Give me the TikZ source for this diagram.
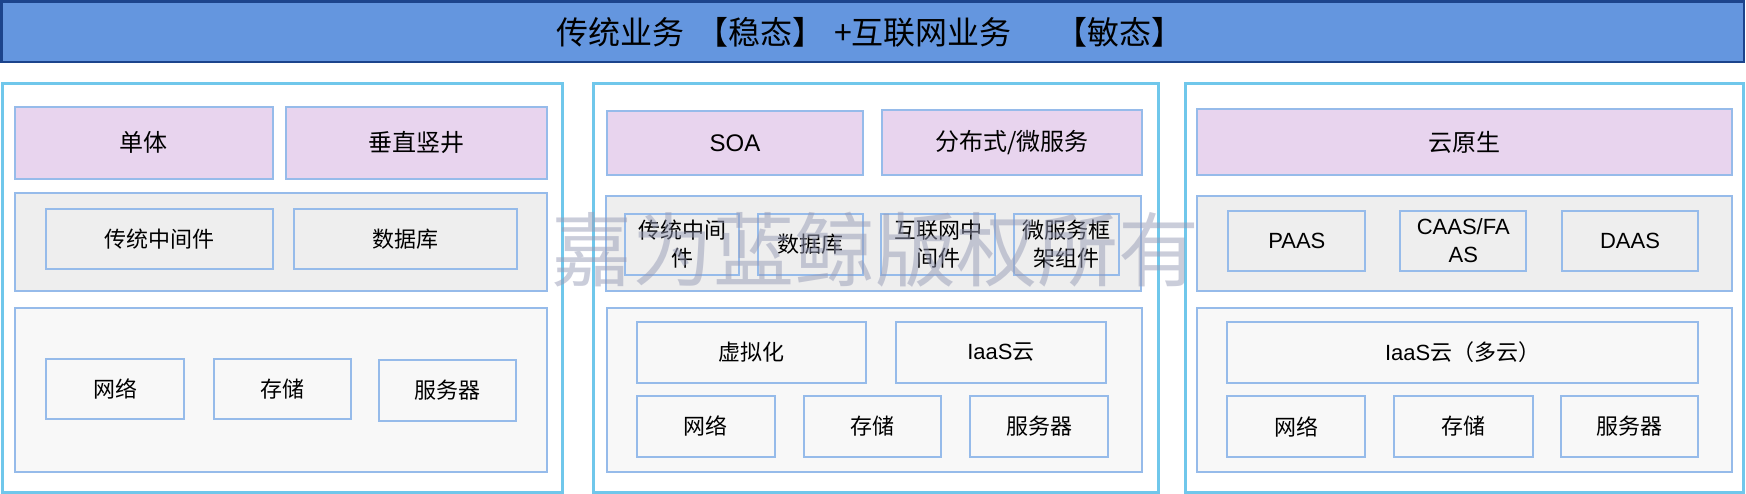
\documentclass[tikz,border=0pt]{standalone}
\usepackage{fontspec}
\setmainfont{Noto Sans CJK SC}
\newfontfamily\lat{Liberation Sans}
\definecolor{titlefill}{RGB}{100,150,223}
\definecolor{titledraw}{RGB}{28,68,140}
\definecolor{skyc}{RGB}{112,199,235}
\definecolor{bdc}{RGB}{150,187,234}
\definecolor{lav}{RGB}{232,212,238}
\definecolor{gone}{RGB}{238,238,238}
\definecolor{gtwo}{RGB}{248,248,248}
\definecolor{wmc}{RGB}{150,155,182}
\tikzset{
  titlebar/.style={draw=titledraw, line width=2.5pt, fill=titlefill},
  outerbox/.style={draw=skyc, line width=3pt, fill=white},
  topbox/.style={draw=bdc, line width=2pt, fill=lav, inner sep=0pt, font=\fontsize{24}{28}\selectfont},
  bandone/.style={draw=bdc, line width=2pt, fill=gone},
  bandtwo/.style={draw=bdc, line width=2pt, fill=gtwo},
  midbox/.style={draw=bdc, line width=2pt, fill=gone, inner sep=0pt, align=center, font=\fontsize{22}{28}\selectfont},
  lowbox/.style={draw=bdc, line width=2pt, fill=gtwo, inner sep=0pt, align=center, font=\fontsize{22}{28}\selectfont},
  wm/.style={text=wmc, text opacity=0.5, inner sep=0pt, font=\fontsize{81}{90}\selectfont},
}
\newcommand\bx[7]{\node[#2, minimum width={(#5-#3)*1pt}, minimum height={(#6-#4)*1pt}] (#1) at ({(#3+#5)/2},{(#4+#6)/2}) {#7};}
\begin{document}
\begin{tikzpicture}[x=1pt,y=-1pt]
\useasboundingbox (0,0) rectangle (1746,494);
% title
\bx{title}{titlebar}{1.5}{1.5}{1744}{62}{}
\node[anchor=west, inner sep=0pt, font=\fontsize{32}{38}\selectfont] (titletext) at (556,32.5) {传统业务\hspace{12pt}【稳态】\hspace{10pt}+互联网业务\hspace{44pt}【敏态】};
% column 1
\bx{c1}{outerbox}{2.5}{84}{562.5}{492}{}
\bx{c1a}{topbox}{14.5}{106.7}{273.2}{179}{单体}
\bx{c1b}{topbox}{286.3}{106.7}{547.3}{179}{垂直竖井}
\bx{c1m}{bandone}{15.3}{193.3}{547.3}{291}{}
\bx{c1m1}{midbox}{46.3}{208.7}{273.2}{269}{传统中间件}
\bx{c1m2}{midbox}{294.3}{208.7}{517.4}{269}{数据库}
\bx{c1l}{bandtwo}{15}{307.7}{547.3}{472}{}
\bx{c1l1}{lowbox}{46.3}{358.7}{184}{419}{网络}
\bx{c1l2}{lowbox}{213.5}{358.7}{351.3}{419}{存储}
\bx{c1l3}{lowbox}{378.5}{359.7}{516.3}{421}{服务器}
% column 2
\bx{c2}{outerbox}{593.4}{84}{1158}{492}{}
\bx{c2a}{topbox}{606.8}{111}{863.2}{175}{\lat SOA}
\bx{c2b}{topbox}{882.3}{110}{1141.8}{175}{分布式/微服务}
\bx{c2m}{bandone}{606}{196}{1140.5}{291}{}
\bx{c2m1}{midbox}{625}{214}{739}{275}{传统中间\\件}
\bx{c2m2}{midbox}{758}{214}{863}{275}{数据库}
\bx{c2m3}{midbox}{881}{214}{995}{275}{互联网中\\间件}
\bx{c2m4}{midbox}{1014}{214}{1119}{275}{微服务框\\架组件}
\bx{c2l}{bandtwo}{606.8}{308.3}{1141.8}{471.7}{}
\bx{c2l1}{lowbox}{636.6}{322.3}{866.3}{382.7}{虚拟化}
\bx{c2l2}{lowbox}{895.7}{322.3}{1106.2}{382.7}{{\lat IaaS}云}
\bx{c2l3}{lowbox}{636.6}{396}{775.2}{456.7}{网络}
\bx{c2l4}{lowbox}{803.9}{396}{940.9}{456.7}{存储}
\bx{c2l5}{lowbox}{970.4}{396}{1108.1}{456.7}{服务器}
% column 3
\bx{c3}{outerbox}{1185.4}{84}{1743.5}{492}{}
\bx{c3a}{topbox}{1197.4}{109}{1732.3}{175}{云原生}
\bx{c3m}{bandone}{1197.4}{196}{1732.3}{290.7}{}
\bx{c3m1}{midbox}{1228.4}{210.7}{1365.2}{271}{\lat PAAS}
\bx{c3m2}{midbox}{1400.3}{210.7}{1526.2}{271}{\lat CAAS/FA\\\lat AS}
\bx{c3m3}{midbox}{1561.7}{210.7}{1698.3}{271}{\lat DAAS}
\bx{c3l}{bandtwo}{1197.4}{308.3}{1732.3}{471.7}{}
\bx{c3l1}{lowbox}{1227.3}{322.3}{1698}{382.7}{{\lat IaaS}云（多云）}
\bx{c3l2}{lowbox}{1227.3}{396}{1365.2}{457}{网络}
\bx{c3l3}{lowbox}{1393.6}{396}{1532.6}{457}{存储}
\bx{c3l4}{lowbox}{1560.6}{396}{1698}{457}{服务器}
% watermark
\node[wm] (watermark) at (875,250) {嘉为蓝鲸版权所有};
\end{tikzpicture}
\end{document}
